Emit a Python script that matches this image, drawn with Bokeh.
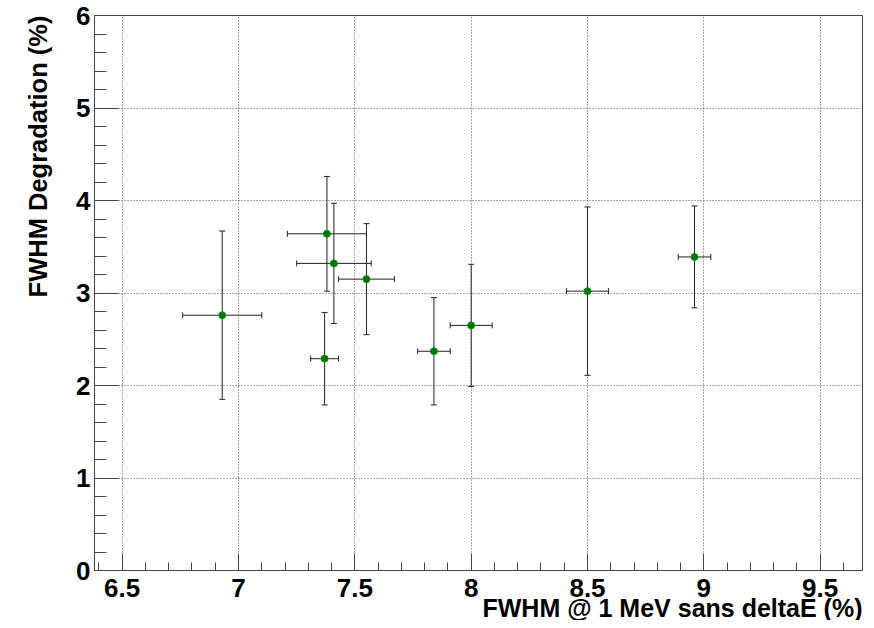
import numpy as np
from bokeh.plotting import figure
from bokeh.models import (ColumnDataSource, Whisker, TeeHead, FixedTicker, Title, Range1d)
from bokeh.embed import file_html
from bokeh.resources import INLINE

# Data
fwhm = [6.93, 7.38, 7.41, 7.55, 7.37, 7.84, 8.00, 8.50, 8.96]
fwhm_err = [0.17, 0.17, 0.16, 0.12, 0.06, 0.07, 0.09, 0.09, 0.07]
degr = [2.76, 3.64, 3.32, 3.15, 2.29, 2.37, 2.65, 3.02, 3.39]
degr_err = [0.91, 0.62, 0.65, 0.60, 0.50, 0.58, 0.66, 0.91, 0.55]

x_major = [6.5, 7.0, 7.5, 8.0, 8.5, 9.0, 9.5]
x_labels = {6.5: "6.5", 7.0: "7", 7.5: "7.5", 8.0: "8", 8.5: "8.5", 9.0: "9", 9.5: "9.5"}
y_major = [0, 1, 2, 3, 4, 5, 6]
x_title = "FWHM @ 1 MeV sans deltaE (%)"
y_title = "FWHM Degradation (%)"

X0, X1 = 6.381, 9.682
Y0, Y1 = 0.0, 6.0

FONT = "Liberation Sans"

p = figure(width=866, height=620, output_backend="svg", toolbar_location=None,
           x_range=Range1d(X0, X1), y_range=Range1d(Y0, Y1),
           min_border_left=93, min_border_right=4, min_border_top=15, min_border_bottom=50)
p.background_fill_color = "white"
p.border_fill_color = "white"
p.outline_line_color = "#444444"
p.outline_line_width = 1

x_minor = [round(6.4 + 0.1 * i, 2) for i in range(33)]
y_minor = [round(0.2 * i, 2) for i in range(31)]
p.xaxis.ticker = FixedTicker(ticks=x_major, minor_ticks=x_minor)
p.yaxis.ticker = FixedTicker(ticks=y_major, minor_ticks=y_minor)
p.xaxis.major_label_overrides = x_labels

for ax in (p.xaxis, p.yaxis):
    ax.major_tick_out = 0
    ax.minor_tick_out = 0
    ax.axis_line_color = "#444444"
    ax.major_tick_line_color = "#444444"
    ax.minor_tick_line_color = "#444444"
    ax.major_label_text_font = FONT
    ax.major_label_text_font_style = "bold"
    ax.major_label_text_font_size = "26px"
    ax.major_label_text_color = "black"
p.xaxis.major_tick_in = 17
p.xaxis.minor_tick_in = 8
p.yaxis.major_tick_in = 24
p.yaxis.minor_tick_in = 12
p.xaxis.major_label_standoff = 8
p.yaxis.major_label_standoff = 4

p.grid.grid_line_color = "#555555"
p.grid.grid_line_dash = "1 2"
p.grid.grid_line_width = 1

src = ColumnDataSource(dict(
    x=fwhm, y=degr,
    xl=[a - b for a, b in zip(fwhm, fwhm_err)], xu=[a + b for a, b in zip(fwhm, fwhm_err)],
    yl=[a - b for a, b in zip(degr, degr_err)], yu=[a + b for a, b in zip(degr, degr_err)],
))

head = dict(size=6, line_color="#222222", line_width=1)
wy = Whisker(source=src, base="x", lower="yl", upper="yu", dimension="height",
             line_color="#222222", line_width=1,
             upper_head=TeeHead(**head), lower_head=TeeHead(**head))
wx = Whisker(source=src, base="y", lower="xl", upper="xu", dimension="width",
             line_color="#222222", line_width=1,
             upper_head=TeeHead(**head), lower_head=TeeHead(**head))
p.add_layout(wy)
p.add_layout(wx)

p.scatter("x", "y", source=src, size=7, fill_color="#007000", line_color="#00a000", line_width=1)

p.add_layout(Title(text=x_title, align="right", text_font=FONT, text_font_style="bold",
                   text_font_size="25px", text_color="black", standoff=-16), "below")
p.add_layout(Title(text=y_title, align="right", text_font=FONT, text_font_style="bold",
                   text_font_size="25.5px", text_color="black", standoff=43), "left")

open("out.html", "w").write(file_html(p, INLINE))
